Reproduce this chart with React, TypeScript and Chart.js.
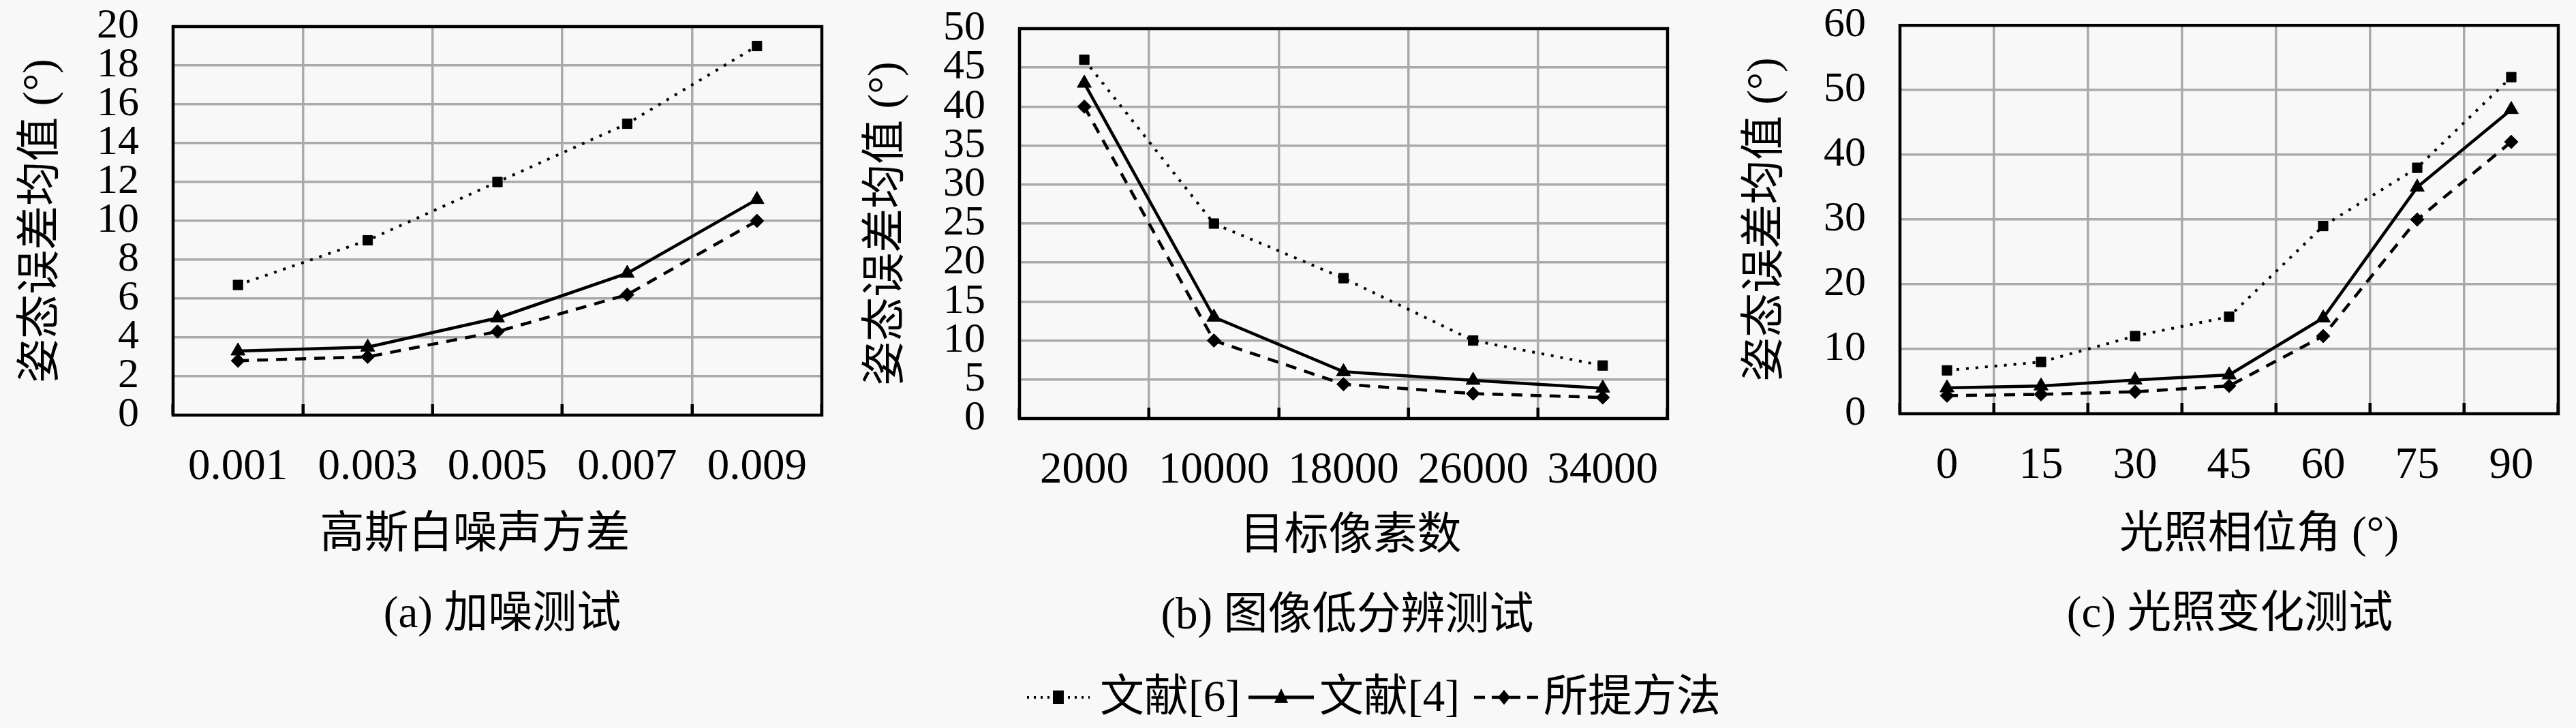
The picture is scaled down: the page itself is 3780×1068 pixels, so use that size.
import { Chart, registerables } from "chart.js"
import { useEffect, useRef } from "react"

Chart.register(...registerables)

const SERIF = '"Liberation Serif", "Noto Sans CJK SC", serif'
const BG = "#f8f8f8"

const SERIES_NAMES = ["文献[6]", "文献[4]", "所提方法"]

const A_LABELS = ["0.001", "0.003", "0.005", "0.007", "0.009"]
const A_REF6 = [6.7, 9, 12, 15, 19]
const A_REF4 = [3.3, 3.5, 5, 7.3, 11.1]
const A_OURS = [2.8, 3, 4.3, 6.2, 10]

const B_LABELS = ["2000", "10000", "18000", "26000", "34000"]
const B_REF6 = [46, 25, 18, 10, 6.8]
const B_REF4 = [43, 13, 6, 4.9, 3.9]
const B_OURS = [40, 10, 4.4, 3.2, 2.7]

const C_LABELS = ["0", "15", "30", "45", "60", "75", "90"]
const C_REF6 = [6.7, 8, 12, 15, 29, 38, 52]
const C_REF4 = [4, 4.3, 5.2, 6, 14.8, 35, 47]
const C_OURS = [2.8, 3, 3.4, 4.3, 12, 30, 42]

const Y_TITLE = "姿态误差均值 (°)"

// draws the black box around the plot area
const framePlugin = {
	id: "frame",
	beforeDatasetsDraw(chart: Chart) {
		const { ctx, chartArea } = chart
		ctx.save()
		ctx.strokeStyle = "#000"
		ctx.lineWidth = 4.5
		ctx.strokeRect(chartArea.left, chartArea.top, chartArea.right - chartArea.left, chartArea.bottom - chartArea.top)
		ctx.restore()
	},
}

interface PanelProps {
	left: number
	width: number
	height: number
	plot: { l: number; r: number; t: number; b: number }
	labels: string[]
	series: number[][]
	yMax: number
	yStep: number
}

function Panel({ left, width, height, plot, labels, series, yMax, yStep }: PanelProps) {
	const canvasRef = useRef<HTMLCanvasElement>(null)

	useEffect(() => {
		if (!canvasRef.current) return
		const xHeight = 100
		const chart = new Chart(canvasRef.current, {
			type: "line",
			data: {
				labels,
				datasets: [
					{
						label: SERIES_NAMES[0],
						data: series[0],
						borderColor: "#000",
						backgroundColor: "#000",
						borderWidth: 4,
						borderDash: [4, 10],
						pointStyle: "rect",
						pointRadius: 10,
						pointBorderWidth: 1,
					},
					{
						label: SERIES_NAMES[1],
						data: series[1],
						borderColor: "#000",
						backgroundColor: "#000",
						borderWidth: 4.5,
						pointStyle: "triangle",
						pointRadius: 12,
						pointBorderWidth: 1,
					},
					{
						label: SERIES_NAMES[2],
						data: series[2],
						borderColor: "#000",
						backgroundColor: "#000",
						borderWidth: 4.5,
						borderDash: [16, 12],
						pointStyle: "rectRot",
						pointRadius: 10,
						pointBorderWidth: 1,
					},
				],
			},
			options: {
				responsive: false,
				animation: false,
				devicePixelRatio: 1,
				layout: {
					padding: {
						left: 0,
						top: plot.t,
						right: width - plot.r,
						bottom: height - plot.b - xHeight,
					},
				},
				plugins: { legend: { display: false }, tooltip: { enabled: false } },
				scales: {
					x: {
						offset: true,
						border: { display: false },
						grid: {
							offset: true,
							color: "#aaaaaa",
							lineWidth: 3.5,
							drawTicks: true,
							tickLength: -16,
							tickColor: "#000",
							tickWidth: 4.5,
						},
						ticks: {
							color: "#000",
							font: { family: SERIF, size: 65 },
							padding: 54,
							maxRotation: 0,
							autoSkip: false,
						},
						afterFit: (s) => {
							s.height = xHeight
						},
					},
					y: {
						min: 0,
						max: yMax,
						border: { display: false },
						// invisible ticks keep the labels away from the frame
						grid: {
							color: "#aaaaaa",
							lineWidth: 3.5,
							drawTicks: true,
							tickLength: 50,
							tickColor: "rgba(0,0,0,0)",
						},
						ticks: {
							stepSize: yStep,
							color: "#000",
							font: { family: SERIF, size: 62 },
							padding: 0,
							autoSkip: false,
						},
						title: {
							display: true,
							text: Y_TITLE,
							color: "#000",
							font: { family: SERIF, size: 65 },
							padding: { top: 23, bottom: 0 },
						},
						afterFit: (s) => {
							s.width = plot.l
						},
					},
				},
			},
			plugins: [framePlugin],
		})
		return () => chart.destroy()
	}, [])

	return (
		<canvas
			ref={canvasRef}
			width={width}
			height={height}
			style={{ position: "absolute", left, top: 0, width, height }}
		/>
	)
}

const textStyle: React.CSSProperties = {
	position: "absolute",
	width: 900,
	textAlign: "center",
	fontFamily: SERIF,
	fontSize: 65,
	lineHeight: "78px",
	color: "#000",
	whiteSpace: "nowrap",
}

function Label({ cx, cy, text }: { cx: number; cy: number; text: string }) {
	return <div style={{ ...textStyle, left: cx - 450, top: cy - 39 }}>{text}</div>
}

function LegendSample({ x, w, kind }: { x: number; w: number; kind: number }) {
	const cy = 20
	const mid = w / 2
	return (
		<svg width={w} height={40} style={{ position: "absolute", left: x, top: 1003 }}>
			{kind === 0 && <line x1={0} y1={cy} x2={w} y2={cy} stroke="#000" strokeWidth={4} strokeDasharray="3 7" />}
			{kind === 1 && <line x1={0} y1={cy} x2={w} y2={cy} stroke="#000" strokeWidth={5} />}
			{kind === 2 && <line x1={0} y1={cy} x2={w} y2={cy} stroke="#000" strokeWidth={4.5} strokeDasharray="16 10" strokeDashoffset={-6} />}
			{kind === 0 && <rect x={mid - 8} y={cy - 10} width={16} height={20} fill="#000" />}
			{kind === 1 && <polygon points={`${mid},${cy - 13} ${mid + 10},${cy + 8} ${mid - 10},${cy + 8}`} fill="#000" />}
			{kind === 2 && <polygon points={`${mid},${cy - 11} ${mid + 9},${cy} ${mid},${cy + 11} ${mid - 9},${cy}`} fill="#000" />}
		</svg>
	)
}

function LegendText({ x, text }: { x: number; text: string }) {
	return (
		<div style={{ ...textStyle, width: "auto", textAlign: "left", left: x, top: 1021 - 39 }}>{text}</div>
	)
}

export default function App() {
	return (
		<div style={{ position: "absolute", left: 0, top: 0, width: 3780, height: 1068, background: BG, overflow: "hidden" }}>
			<Panel
				left={0}
				width={1240}
				height={740}
				plot={{ l: 254, r: 1219, t: 39, b: 609 }}
				labels={A_LABELS}
				series={[A_REF6, A_REF4, A_OURS]}
				yMax={20}
				yStep={2}
			/>
			<Panel
				left={1240}
				width={1250}
				height={740}
				plot={{ l: 256, r: 1221, t: 42, b: 614 }}
				labels={B_LABELS}
				series={[B_REF6, B_REF4, B_OURS]}
				yMax={50}
				yStep={5}
			/>
			<Panel
				left={2530}
				width={1250}
				height={740}
				plot={{ l: 258, r: 1224, t: 36, b: 607 }}
				labels={C_LABELS}
				series={[C_REF6, C_REF4, C_OURS]}
				yMax={60}
				yStep={10}
			/>

			<Label cx={697} cy={781} text="高斯白噪声方差" />
			<Label cx={1982} cy={783} text="目标像素数" />
			<Label cx={3315} cy={781} text="光照相位角 (°)" />

			<Label cx={737} cy={898} text="(a) 加噪测试" />
			<Label cx={1977} cy={900} text="(b) 图像低分辨测试" />
			<Label cx={3272} cy={898} text="(c) 光照变化测试" />

			<LegendSample x={1507} w={92} kind={0} />
			<LegendText x={1614} text={SERIES_NAMES[0]} />
			<LegendSample x={1832} w={96} kind={1} />
			<LegendText x={1936} text={SERIES_NAMES[1]} />
			<LegendSample x={2157} w={100} kind={2} />
			<LegendText x={2265} text={SERIES_NAMES[2]} />
		</div>
	)
}
